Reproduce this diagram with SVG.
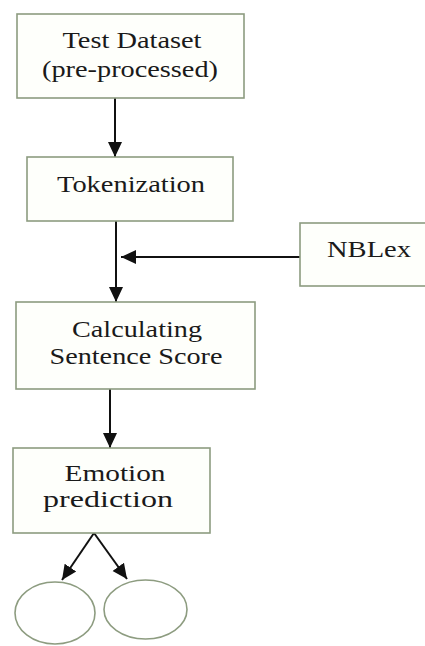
<svg xmlns="http://www.w3.org/2000/svg" width="425" height="646" viewBox="0 0 425 646">
<style>
.box{fill:#fefffb;stroke:#8d9c80;stroke-width:1.6}
.ell{fill:#ffffff;stroke:#8d9c80;stroke-width:1.6}
.lbl{font-family:"Liberation Serif","Times New Roman",serif;font-size:24px;fill:#1a1a1a;text-anchor:middle}
.con{stroke:#111;stroke-width:2;fill:none;marker-end:url(#ah)}
</style>
<defs>
<marker id="ah" markerUnits="userSpaceOnUse" markerWidth="16" markerHeight="16" viewBox="0 0 16 16" refX="15" refY="8" orient="auto">
<path d="M0,1 L15,8 L0,15 Z" fill="#111"/>
</marker>
</defs>
<rect width="425" height="646" fill="#ffffff"/>
<g id="connectors">
<line class="con" x1="115" y1="98" x2="115" y2="157"/>
<line class="con" x1="116" y1="221" x2="116" y2="302"/>
<line class="con" x1="300" y1="257" x2="121" y2="257"/>
<line class="con" x1="110" y1="389" x2="110" y2="448"/>
<line class="con" x1="94" y1="533" x2="62" y2="580"/>
<line class="con" x1="94" y1="533" x2="127" y2="579"/>
</g>
<g id="test-dataset">
<rect class="box" x="17" y="14" width="227" height="84"/>
<text class="lbl" x="132" y="48" textLength="139" lengthAdjust="spacingAndGlyphs">Test Dataset</text>
<text class="lbl" x="130" y="77" textLength="176" lengthAdjust="spacingAndGlyphs">(pre-processed)</text>
</g>
<g id="tokenization">
<rect class="box" x="27" y="157" width="206" height="64"/>
<text class="lbl" x="131" y="192" textLength="148" lengthAdjust="spacingAndGlyphs">Tokenization</text>
</g>
<g id="nblex">
<rect class="box" x="300" y="223" width="135" height="63"/>
<text class="lbl" x="369" y="257" textLength="84" lengthAdjust="spacingAndGlyphs">NBLex</text>
</g>
<g id="sentence-score">
<rect class="box" x="16" y="302" width="239" height="87"/>
<text class="lbl" x="137" y="337" textLength="130" lengthAdjust="spacingAndGlyphs">Calculating</text>
<text class="lbl" x="136" y="364" textLength="173" lengthAdjust="spacingAndGlyphs">Sentence Score</text>
</g>
<g id="emotion-prediction">
<rect class="box" x="13" y="448" width="197" height="85"/>
<text class="lbl" x="115" y="481" textLength="101" lengthAdjust="spacingAndGlyphs">Emotion</text>
<text class="lbl" x="108" y="507" textLength="130" lengthAdjust="spacingAndGlyphs">prediction</text>
</g>
<g id="emotion-a">
<ellipse class="ell" cx="55" cy="613" rx="40" ry="31"/>
</g>
<g id="emotion-b">
<ellipse class="ell" cx="145.5" cy="609.5" rx="41.5" ry="29.5"/>
</g>
</svg>
